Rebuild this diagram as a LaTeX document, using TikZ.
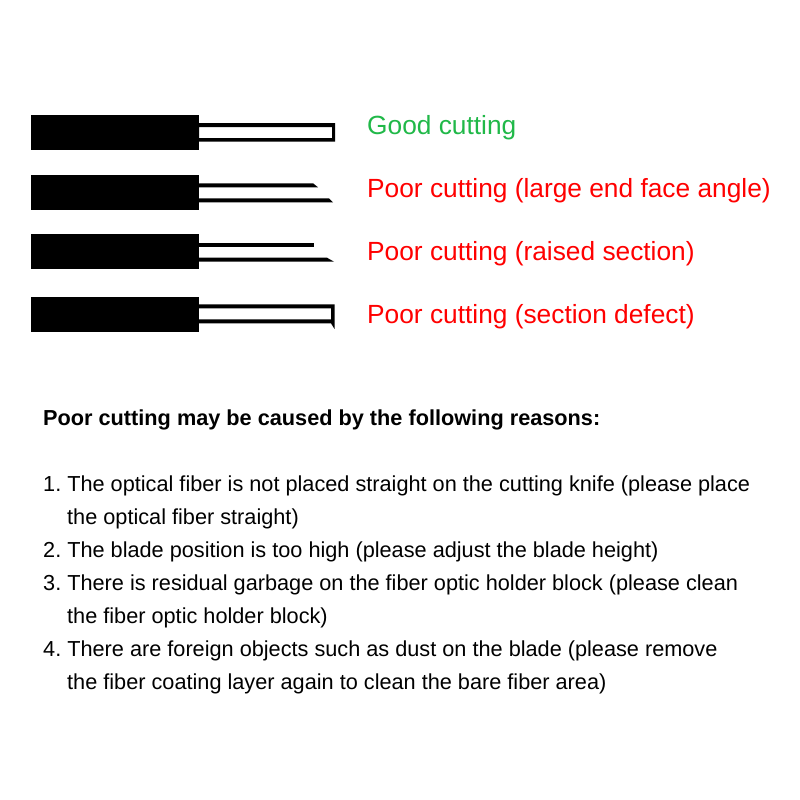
\documentclass[tikz,border=0pt]{standalone}
\usepackage{fontspec}
\setmainfont{Liberation Sans}
\definecolor{goodgreen}{RGB}{32,184,72}
\tikzset{
  sleeve/.style={fill=black},
  good/.style={anchor=base west,inner sep=0pt,text=goodgreen,font=\fontsize{26.3}{30}\selectfont},
  poor/.style={anchor=base west,inner sep=0pt,text=red,font=\fontsize{26.3}{30}\selectfont},
  body/.style={anchor=base west,inner sep=0pt,font=\frenchspacing\fontsize{21.7}{25}\selectfont}
}
\begin{document}
\begin{tikzpicture}[x=1pt,y=-1pt]
	\useasboundingbox (0,0) rectangle (800,800);

	\fill[sleeve] (31,115) rectangle (199,150);
	\fill[sleeve] (31,175) rectangle (199,210);
	\fill[sleeve] (31,234) rectangle (199,269);
	\fill[sleeve] (31,297) rectangle (199,332);

	\fill[even odd rule] (199,123) rectangle (335,141.5) (199,127) rectangle (332,138);

	\fill (199,183.3) -- (313,183.3) -- (318,187.3) -- (199,187.3) -- cycle;
	\fill (199,198.3) -- (329,198.3) -- (333,202.3) -- (199,202.3) -- cycle;

	\fill (199,242.7) rectangle (314,246.7);
	\fill (199,257.7) -- (327,257.7) -- (334,261.7) -- (199,261.7) -- cycle;

	\fill (199,304.3) -- (334.5,304.3) -- (334.5,329) -- (331,323.3) -- (199,323.3) -- (199,319.3)
	  -- (331,319.3) -- (331,308.3) -- (199,308.3) -- cycle;

	\node[good] (goodcut) at (367,134) {Good cutting};
	\node[poor] (anglecut) at (367,197) {Poor cutting (large end face angle)};
	\node[poor] (raisedcut) at (367,260) {Poor cutting (raised section)};
	\node[poor] (defectcut) at (367,323) {Poor cutting (section defect)};

	\node[body] (reasons) at (43,425) {\bfseries Poor cutting may be caused by the following reasons:};

	\node[body] (one) at (43,491) {1. The optical fiber is not placed straight on the cutting knife (please place};
	\node[body] (onea) at (67,524) {the optical fiber straight)};
	\node[body] (two) at (43,557) {2. The blade position is too high (please adjust the blade height)};
	\node[body] (three) at (43,590) {3. There is residual garbage on the fiber optic holder block (please clean};
	\node[body] (threea) at (67,623) {the fiber optic holder block)};
	\node[body] (four) at (43,656) {4. There are foreign objects such as dust on the blade (please remove};
	\node[body] (foura) at (67,689) {the fiber coating layer again to clean the bare fiber area)};
\end{tikzpicture}
\end{document}
